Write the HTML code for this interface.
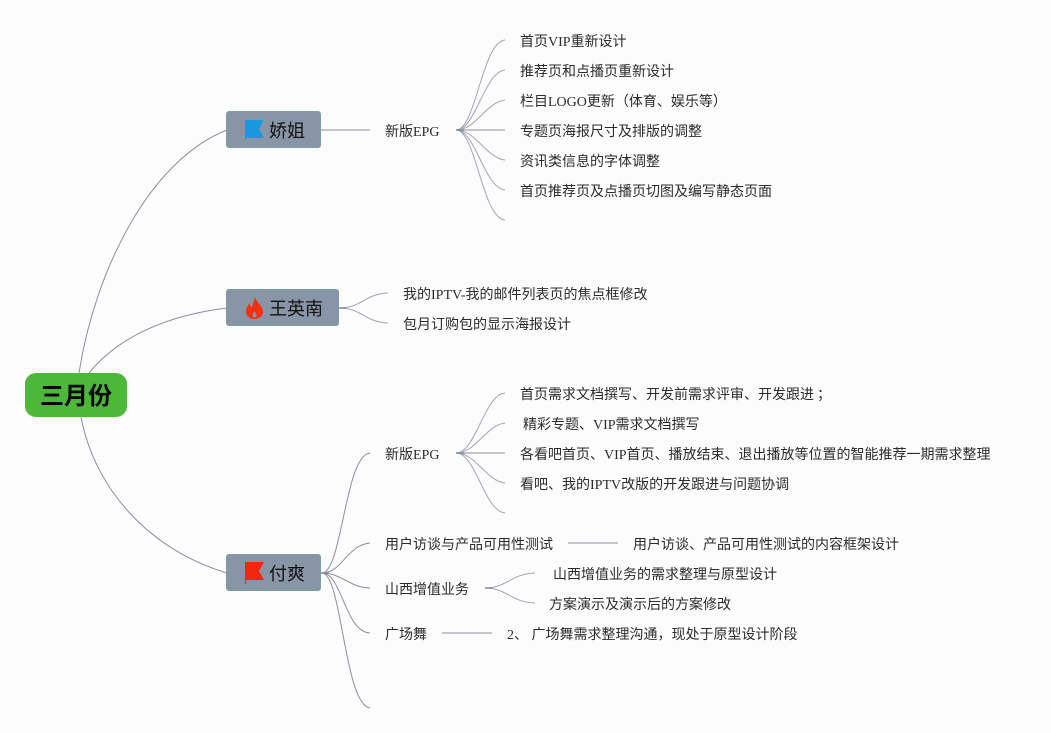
<!DOCTYPE html>
<html><head><meta charset="utf-8">
<style>
html,body{margin:0;padding:0;background:#fcfcfd;}
#p{position:relative;width:1051px;height:733px;overflow:hidden;background:#fcfcfd;}
svg{position:absolute;left:0;top:0;}
.t{position:absolute;white-space:pre;font:14px/20px "Liberation Serif","WenQuanYi Zen Hei","Noto Sans CJK SC",sans-serif;color:#2b2b2b;}
.n{position:absolute;box-sizing:border-box;background:#8795a6;border:1px solid #7aa0a3;border-radius:3px;height:37px;}
.l{position:absolute;white-space:pre;font:18px/24px "Liberation Sans","Noto Sans CJK SC",sans-serif;color:#111;}
</style></head><body><div id="p">
<svg width="1051" height="733" fill="none">
<g stroke="#8e8e9e" stroke-width="1">
<path d="M79 373C95 270 150 160 227 130"/>
<path d="M89 373C120 335 170 315 227 308"/>
<path d="M81 417C95 490 150 550 227 573"/>
<path d="M322 573C342 573 345 455 370 453"/>
<path d="M322 573C342 573 347 545 370 543"/>
<path d="M322 573C342 573 350 588 370 588"/>
<path d="M322 573C342 573 345 632 370 633"/>
<path d="M322 573C342 573 344 704 370 708"/>
</g>
<g stroke="#a2a6b4" stroke-width="1">
<path d="M456 130C476 130 482 42 505 40"/>
<path d="M456 130C476 130 484 72 505 70"/>
<path d="M456 130C476 130 486 102 505 100"/>
<path d="M456 130H505" stroke-width="1.3"/>
<path d="M456 130C476 130 486 158 505 160"/>
<path d="M456 130C476 130 484 188 505 190"/>
<path d="M456 130C476 130 482 218 505 220"/>
<path d="M456 453C476 453 484 395 505 393"/>
<path d="M456 453C476 453 486 425 505 423"/>
<path d="M456 453H505" stroke-width="1.3"/>
<path d="M456 453C476 453 486 481 505 483"/>
<path d="M456 453C476 453 484 511 505 513"/>
<path d="M485 588C507 588 510 574 535 573"/>
<path d="M485 588C507 588 510 602 535 603"/>
<path d="M339 308C362 308 364 294 388 293"/>
<path d="M339 308C362 308 364 322 388 323"/>
<path d="M321 130H370" stroke-width="1.3"/>
<path d="M568 543H618" stroke-width="1.3"/>
<path d="M442 633H492" stroke-width="1.3"/>
</g>
<g fill="none" stroke="#7f8ea3" stroke-width="1.5">
<path d="M456 130H464M456 453H464M485 588H492M339 308H346M321 573H329"/>
</g>
</svg>
<div style="position:absolute;left:25px;top:373px;width:102px;height:44px;background:#4cb738;border-radius:11px;"></div>
<div style="position:absolute;left:25px;top:375px;width:102px;text-align:center;font:bold 24px/44px 'Liberation Sans','Noto Sans CJK SC',sans-serif;color:#050505;">三月份</div>
<div class="n" style="left:226px;top:111px;width:95px;"></div>
<div class="n" style="left:226px;top:289px;width:113px;"></div>
<div class="n" style="left:226px;top:554px;width:95px;"></div>
<svg width="1051" height="733">
<path d="M245 120H264L259 129L264 138H246V140H245Z" fill="#1a98de"/>
<path d="M245 562H264L259 571L264 580H246V584H245Z" fill="#f3280b"/>
<path d="M255 297C256 302 263 306 263 312C263 316 259 319 254.500 319C250 319 246 316 246 312C246 308 248 306 249 303C250 306 251 307 252 307C253 304 254 300 255 297ZM254.500 311C253.500 313 252.500 314 252.500 315.500C252.500 316.700 253.500 317.500 254.500 317.500C255.500 317.500 256.500 316.700 256.500 315.500C256.500 314 255.500 313 254.500 311Z" fill="#f4300e" fill-rule="evenodd"/>
</svg>
<div class="l" style="left:269px;top:119px;">娇姐</div>
<div class="l" style="left:269px;top:297px;">王英南</div>
<div class="l" style="left:269px;top:562px;">付爽</div>
<div class="t" style="left:385px;top:123px;">新版EPG</div>
<div class="t" style="left:520px;top:33px;">首页VIP重新设计</div>
<div class="t" style="left:520px;top:63px;">推荐页和点播页重新设计</div>
<div class="t" style="left:520px;top:93px;">栏目LOGO更新（体育、娱乐等）</div>
<div class="t" style="left:520px;top:123px;">专题页海报尺寸及排版的调整</div>
<div class="t" style="left:520px;top:153px;">资讯类信息的字体调整</div>
<div class="t" style="left:520px;top:183px;">首页推荐页及点播页切图及编写静态页面</div>
<div class="t" style="left:403px;top:286px;">我的IPTV-我的邮件列表页的焦点框修改</div>
<div class="t" style="left:403px;top:316px;">包月订购包的显示海报设计</div>
<div class="t" style="left:385px;top:446px;">新版EPG</div>
<div class="t" style="left:520px;top:386px;">首页需求文档撰写、开发前需求评审、开发跟进<span style="position:relative;left:3px;">；</span></div>
<div class="t" style="left:523px;top:416px;">精彩专题、VIP需求文档撰写</div>
<div class="t" style="left:520px;top:446px;">各看吧首页、VIP首页、播放结束、退出播放等位置的智能推荐一期需求整理</div>
<div class="t" style="left:520px;top:476px;">看吧、我的IPTV改版的开发跟进与问题协调</div>
<div class="t" style="left:385px;top:536px;">用户访谈与产品可用性测试</div>
<div class="t" style="left:633px;top:536px;">用户访谈、产品可用性测试的内容框架设计</div>
<div class="t" style="left:385px;top:581px;">山西增值业务</div>
<div class="t" style="left:553px;top:566px;">山西增值业务的需求整理与原型设计</div>
<div class="t" style="left:549px;top:596px;">方案演示及演示后的方案修改</div>
<div class="t" style="left:385px;top:626px;">广场舞</div>
<div class="t" style="left:507px;top:626px;">2、 广场舞需求整理沟通，现处于原型设计阶段</div>
</div></body></html>
